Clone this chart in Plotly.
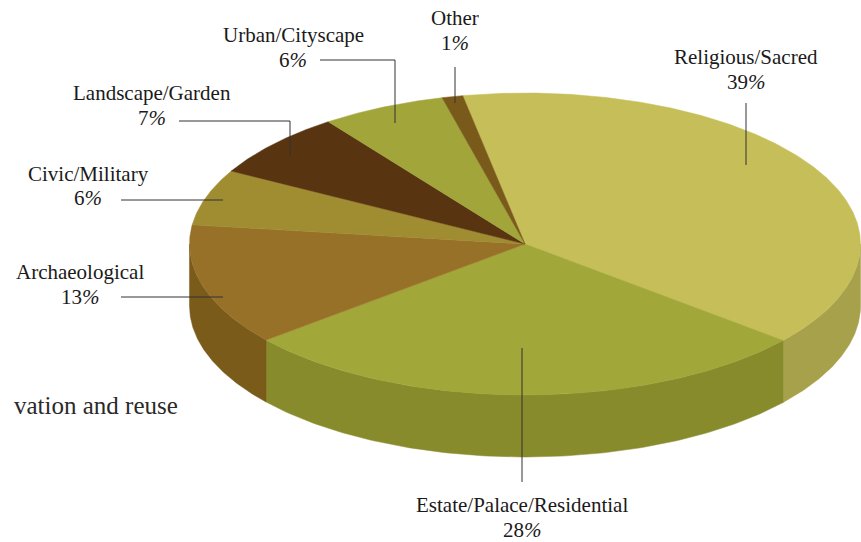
import numpy as np
import plotly.graph_objects as go

# Data
categories = ["Religious/Sacred", "Estate/Palace/Residential", "Archaeological",
              "Civic/Military", "Landscape/Garden", "Urban/Cityscape", "Other"]
values = [39, 28, 13, 6, 7, 6, 1]
top_colors = ["#C6BF59", "#A2A739", "#987129", "#A08C31", "#583410", "#A1A53A", "#7A5A1B"]
side_colors = ["#A6A14A", "#878B2B", "#7A5B1A", "#7A5B1A", "#3F2509", "#878B2B", "#5E4513"]

# Geometry of the tilted pie, in page pixels
CX, CY, RX, RY, DEPTH = 525, 244, 335.5, 151, 62
START = -10.7  # degrees clockwise from 12 o'clock


def ell(deg, dy=0.0):
    t = np.radians(deg)
    return CX + RX * np.sin(t), CY - RY * np.cos(t) + dy


fig = go.Figure()
total = sum(values)
spans = []
a = START
for v in values:
    spans.append((a, a + 360 * v / total))
    a += 360 * v / total

# side wall (only the front half of the rim is visible)
for (a0, a1), col, name in zip(spans, side_colors, categories):
    lo, hi = max(a0, 90), min(a1, 270)
    if hi <= lo:
        continue
    t = np.linspace(lo, hi, 120)
    xt, yt = ell(t)
    xb, yb = ell(t[::-1], DEPTH)
    fig.add_trace(go.Scatter(x=np.r_[xt, xb, xt[0]], y=np.r_[yt, yb, yt[0]], mode="lines",
                             fill="toself", fillcolor=col, line=dict(width=0.5, color=col),
                             hoverinfo="skip", showlegend=False))

# top face
for (a0, a1), col, name, v in zip(spans, top_colors, categories, values):
    t = np.linspace(a0, a1, max(int(a1 - a0) * 3, 12))
    x, y = ell(t)
    fig.add_trace(go.Scatter(x=np.r_[CX, x, CX], y=np.r_[CY, y, CY], mode="lines",
                             fill="toself", fillcolor=col, line=dict(width=0.5, color=col),
                             name=name, text=f"{name} {v}%", hoverinfo="text", showlegend=False))

# labels: category -> (centre x, y of name line, y of percent line)
label_pos = {
    "Religious/Sacred": (746, 57, 82),
    "Estate/Palace/Residential": (522, 505, 530),
    "Archaeological": (80, 272, 297),
    "Civic/Military": (88, 174, 198),
    "Landscape/Garden": (152, 93, 118),
    "Urban/Cityscape": (293, 35, 60),
    "Other": (455, 18, 43),
}
FONT = "Liberation Serif"
annotations = []
for name, v in zip(categories, values):
    cx, y1, y2 = label_pos[name]
    annotations.append(dict(x=cx, y=y1, text=name, showarrow=False, xanchor="center", yanchor="middle",
                            font=dict(family=FONT, size=21, color="#1a1a1a")))
    annotations.append(dict(x=cx, y=y2, text=f"{v}<i>%</i>", showarrow=False, xanchor="center", yanchor="middle",
                            font=dict(family=FONT, size=21, color="#1a1a1a")))
annotations.append(dict(x=180, y=405, text="vation and reuse", showarrow=False, xanchor="right", yanchor="middle",
                        font=dict(family=FONT, size=25, color="#2a2a2a")))

# leader lines
leaders = [
    [(320, 60), (395, 60), (395, 123)],
    [(179, 121), (290, 121), (290, 156)],
    [(121, 200), (223, 200)],
    [(121, 297), (223, 297)],
    [(455, 67), (455, 103)],
    [(746, 103), (746, 165)],
    [(522, 348), (522, 482)],
]
for pts in leaders:
    fig.add_trace(go.Scatter(x=[p[0] for p in pts], y=[p[1] for p in pts], mode="lines",
                             line=dict(color="#333333", width=1), hoverinfo="skip", showlegend=False))

fig.update_layout(
    width=861, height=542, margin=dict(l=0, r=0, t=0, b=0),
    paper_bgcolor="white", plot_bgcolor="white", annotations=annotations,
    xaxis=dict(range=[0, 861], visible=False, fixedrange=True),
    yaxis=dict(range=[542, 0], visible=False, fixedrange=True),
)
fig.write_html("out.html", post_script="document.body.style.margin='0';", config={"displayModeBar": False})
